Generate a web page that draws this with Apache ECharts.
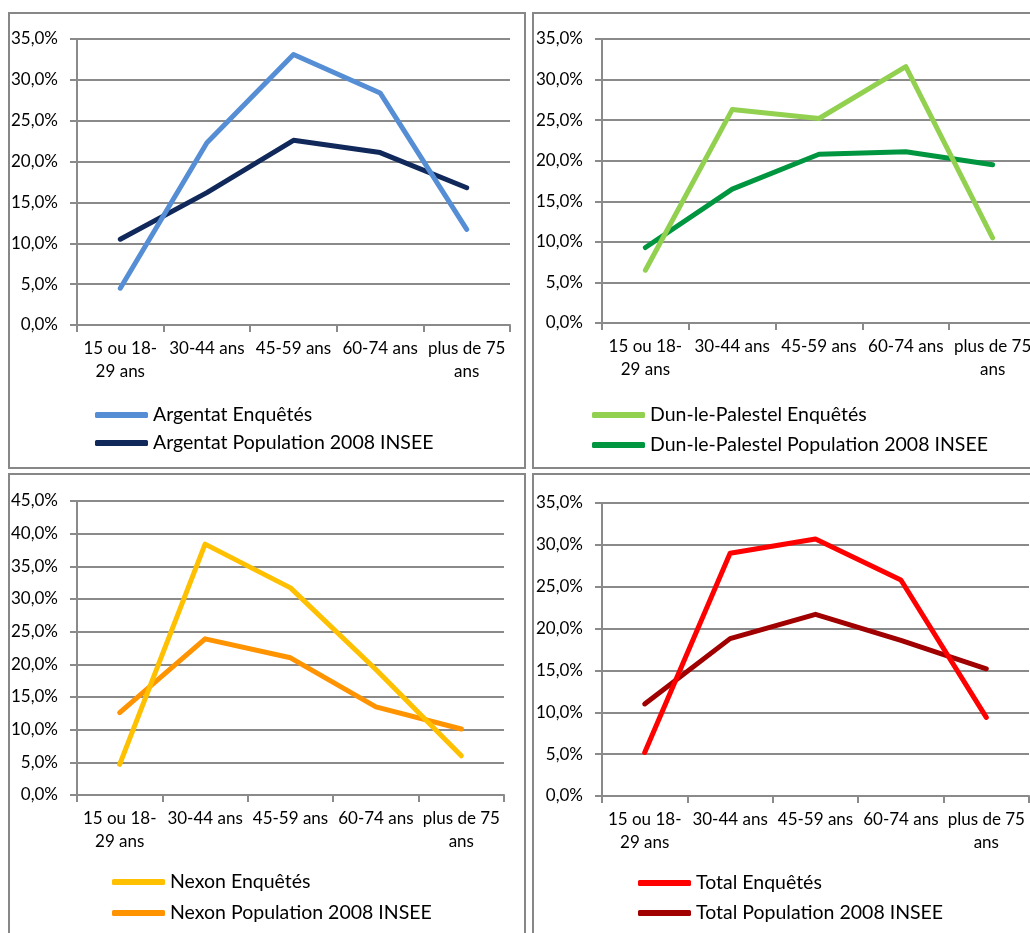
<!DOCTYPE html>
<html>
<head>
<meta charset="utf-8">
<script src="https://cdn.jsdelivr.net/npm/echarts@6/dist/echarts.min.js"></script>
<style>
html,body{margin:0;padding:0;background:#fff;overflow:hidden;}
#c{width:1040px;height:933px;}
</style>
</head>
<body>
<div id="c"></div>
<script>
// ---- data ----
const categories = ['15 ou 18-29 ans', '30-44 ans', '45-59 ans', '60-74 ans', 'plus de 75 ans'];
const tickLabels = ['15 ou 18-\n29 ans', '30-44 ans', '45-59 ans', '60-74 ans', 'plus de 75\nans'];

const argentatEnq = [4.5, 22.3, 33.1, 28.4, 11.7];
const argentatPop = [10.5, 16.2, 22.6, 21.1, 16.8];
const dunEnq = [6.5, 26.3, 25.2, 31.6, 10.5];
const dunPop = [9.3, 16.5, 20.8, 21.1, 19.5];
const nexonEnq = [4.7, 38.4, 31.7, 19.2, 6.0];
const nexonPop = [12.6, 23.9, 21.0, 13.5, 10.1];
const totalEnq = [5.2, 29.0, 30.7, 25.8, 9.4];
const totalPop = [11.0, 18.8, 21.7, 18.6, 15.2];

// canvas is 1040 wide; the 1030 window shows the left part (reference is cropped on the right)
const panels = [
  {names: ['Argentat Enquêtés', 'Argentat Population 2008 INSEE'], data: [argentatEnq, argentatPop],
   colors: ['#558ED5', '#10285A'], max: 35,
   grid: {left: 77, top: 39, right: 530, height: 286}, legend: {left: 95, top: 405, itemGap: 8}},
  {names: ['Dun-le-Palestel Enquêtés', 'Dun-le-Palestel Population 2008 INSEE'], data: [dunEnq, dunPop],
   colors: ['#92D050', '#00963F'], max: 35,
   grid: {left: 602, top: 39, right: 4, height: 284}, legend: {left: 592, top: 405, itemGap: 10}},
  {names: ['Nexon Enquêtés', 'Nexon Population 2008 INSEE'], data: [nexonEnq, nexonPop],
   colors: ['#FFC000', '#FF9300'], max: 45,
   grid: {left: 77, top: 501, right: 536, height: 294}, legend: {left: 112, top: 872, itemGap: 11}},
  {names: ['Total Enquêtés', 'Total Population 2008 INSEE'], data: [totalEnq, totalPop],
   colors: ['#FF0000', '#A00000'], max: 35,
   grid: {left: 602, top: 503, right: 11, height: 293}, legend: {left: 638, top: 873, itemGap: 10}}
];

const FONT = 'Lato';
const GRIDC = '#8a8a8a';

const grids = [], xAxes = [], yAxes = [], series = [], legends = [];
panels.forEach((p, i) => {
  grids.push(Object.assign({containLabel: false}, p.grid));
  xAxes.push({
    type: 'category', gridIndex: i, data: categories, boundaryGap: true,
    axisLine: {show: true, lineStyle: {color: GRIDC, width: 2}},
    axisTick: {show: true, length: 7, lineStyle: {color: GRIDC, width: 2}},
    axisLabel: {
      interval: 0, margin: 12, color: '#000', fontFamily: FONT, fontSize: 17, lineHeight: 23,
      formatter: (v, idx) => tickLabels[idx]
    },
    splitLine: {show: false}
  });
  yAxes.push({
    type: 'value', gridIndex: i, min: 0, max: p.max, interval: 5,
    axisLine: {show: true, lineStyle: {color: GRIDC, width: 2}},
    axisTick: {show: true, length: 7, lineStyle: {color: GRIDC, width: 2}},
    axisLabel: {
      margin: 19, color: '#000', fontFamily: FONT, fontSize: 17,
      formatter: v => v.toFixed(1).replace('.', ',') + '%'
    },
    splitLine: {show: true, lineStyle: {color: GRIDC, width: 2}}
  });
  p.names.forEach((n, k) => {
    series.push({
      type: 'line', name: n, xAxisIndex: i, yAxisIndex: i, data: p.data[k],
      symbol: 'none', color: p.colors[k],
      lineStyle: {width: 5, color: p.colors[k], cap: 'round', join: 'round'},
      z: 3 + (1 - k), animation: false
    });
  });
  legends.push({
    data: p.names, orient: 'vertical', left: p.legend.left, top: p.legend.top,
    itemGap: p.legend.itemGap, itemWidth: 53, itemHeight: 6, icon: 'roundRect',
    padding: 0,
    textStyle: {fontFamily: FONT, fontSize: 19.5, color: '#000', lineHeight: 20, padding: [0, 0, 0, 0]}
  });
});

const borders = [
  {x: 9, y: 13, w: 516, h: 455},
  {x: 533, y: 13, w: 520, h: 455},
  {x: 9, y: 474, w: 516, h: 470},
  {x: 533, y: 474, w: 520, h: 470}
].map(b => ({
  type: 'rect', shape: {x: b.x, y: b.y, width: b.w, height: b.h},
  style: {fill: 'none', stroke: '#878787', lineWidth: 2}, z: -1, silent: true
}));

const chart = echarts.init(document.getElementById('c'), null, {renderer: 'canvas'});
chart.setOption({
  backgroundColor: '#ffffff',
  animation: false,
  grid: grids, xAxis: xAxes, yAxis: yAxes, series: series, legend: legends,
  graphic: borders
});
</script>
</body>
</html>
